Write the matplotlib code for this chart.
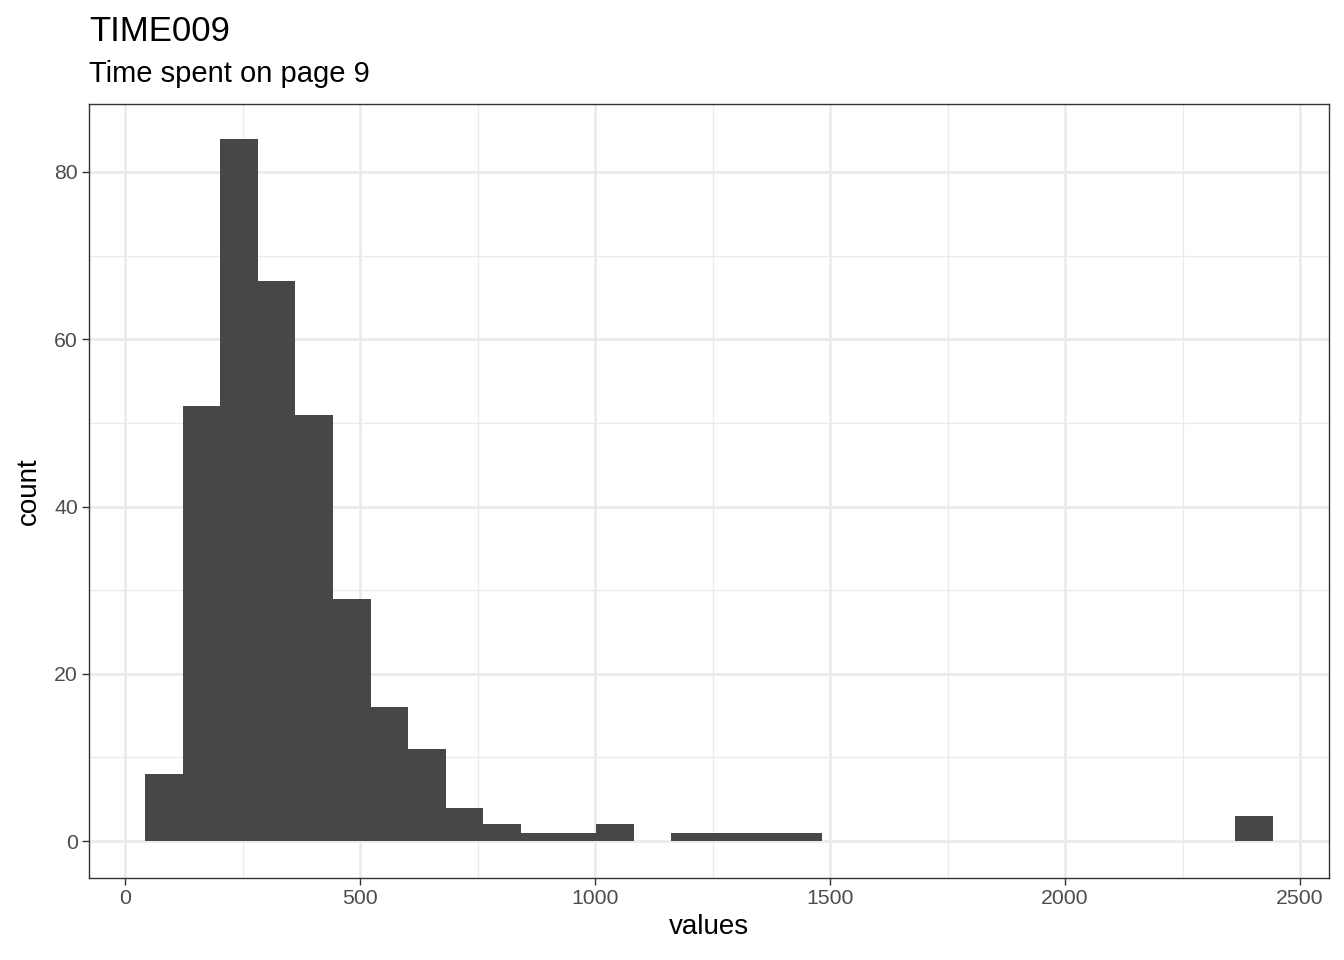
import matplotlib
matplotlib.use("Agg")
import matplotlib.pyplot as plt
import numpy as np
from matplotlib.ticker import FixedLocator

plt.rcParams['font.family'] = ['Liberation Sans', 'DejaVu Sans']

# Data
bin_start = 42.5
bin_width = 80.0
counts = [8, 52, 84, 67, 51, 29, 16, 11, 4, 2, 1, 1, 2, 0, 1, 1, 1, 1,
          0, 0, 0, 0, 0, 0, 0, 0, 0, 0, 0, 3]
x_ticks = [0, 500, 1000, 1500, 2000, 2500]
y_ticks = [0, 20, 40, 60, 80]
title = "TIME009"
subtitle = "Time spent on page 9"

edges = bin_start + bin_width * np.arange(len(counts))

fig = plt.figure(figsize=(13.44, 9.6), dpi=100)
ax = fig.add_axes([89/1344, 1-878/960, (1329-89)/1344, (878-104)/960])

ax.bar(edges, counts, width=bin_width, align='edge', color='#474747',
       edgecolor='none', zorder=3)

ax.set_xlim(-76.6, 2561.7)
ax.set_ylim(-4.42, 88.13)

ax.xaxis.set_major_locator(FixedLocator(x_ticks))
ax.yaxis.set_major_locator(FixedLocator(y_ticks))
ax.xaxis.set_minor_locator(FixedLocator([250, 750, 1250, 1750, 2250]))
ax.yaxis.set_minor_locator(FixedLocator([10, 30, 50, 70]))

ax.grid(which='major', color='#EBEBEB', linewidth=2.0, zorder=0)
ax.grid(which='minor', color='#EBEBEB', linewidth=1.0, zorder=0)
ax.set_axisbelow(True)

for s in ax.spines.values():
    s.set_color('#333333')
    s.set_linewidth(1.0)

ax.tick_params(which='major', length=5, width=1.0, color='#333333',
               labelsize=15.3, labelcolor='#4D4D4D', pad=3)
ax.tick_params(which='minor', length=0)

ax.set_xlabel("values", fontsize=20, color='black', labelpad=4)
ax.set_ylabel("count", fontsize=20, color='black', labelpad=9)

fig.text(89/1344, 1-41/960, title, fontsize=25, color='black', ha='left', va='baseline')
fig.text(89/1344, 1-82/960, subtitle, fontsize=21, color='black', ha='left', va='baseline')

fig.savefig("out.png", dpi=100)
